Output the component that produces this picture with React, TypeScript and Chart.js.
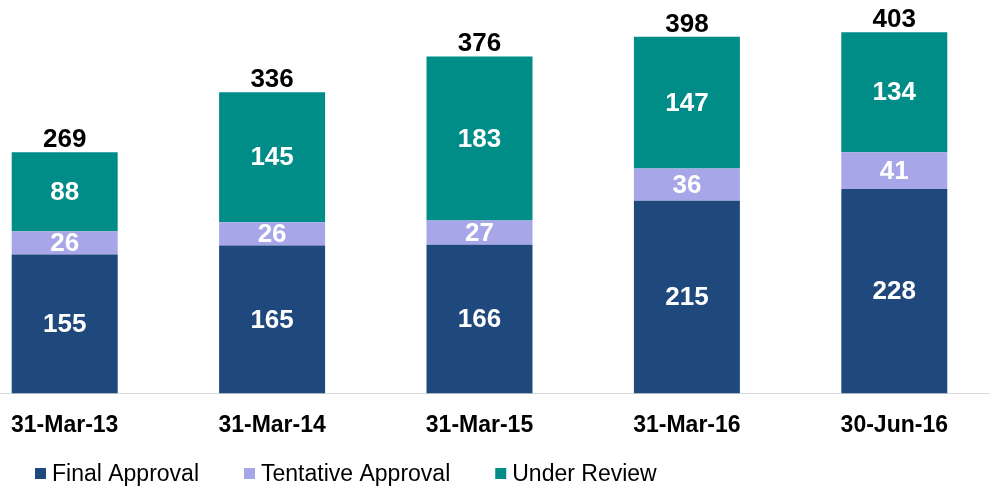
import React, { useEffect, useRef } from "react";
import { Chart, registerables } from "chart.js";

Chart.register(...registerables);

const categories = ["31-Mar-13", "31-Mar-14", "31-Mar-15", "31-Mar-16", "30-Jun-16"];
const finalApproval = [155, 165, 166, 215, 228];
const tentativeApproval = [26, 26, 27, 36, 41];
const underReview = [88, 145, 183, 147, 134];
const totals = [269, 336, 376, 398, 403];

const seriesNames = ["Final Approval", "Tentative Approval", "Under Review"];
const seriesColors = ["#1F497D", "#A6A6E8", "#008C87"];

const FONT = '"Liberation Sans", Arial, Helvetica, sans-serif';

const labelPlugin = {
  id: "segmentLabels",
  afterDatasetsDraw(chart: any) {
    const ctx = chart.ctx;
    ctx.save();
    ctx.font = `bold 26px ${FONT}`;
    ctx.textAlign = "center";
    chart.data.datasets.forEach((ds: any, di: number) => {
      const meta = chart.getDatasetMeta(di);
      meta.data.forEach((bar: any, i: number) => {
        const v = ds.data[i];
        ctx.fillStyle = "#FFFFFF";
        ctx.textBaseline = "middle";
        ctx.fillText(String(v), bar.x, (bar.y + bar.base) / 2 + 1);
      });
    });
    const last = chart.getDatasetMeta(chart.data.datasets.length - 1);
    last.data.forEach((bar: any, i: number) => {
      ctx.fillStyle = "#000000";
      ctx.textBaseline = "alphabetic";
      ctx.fillText(String(totals[i]), bar.x, bar.y - 5);
    });
    ctx.restore();
  },
};

const legendPlugin = {
  id: "customLegend",
  afterDraw(chart: any) {
    const ctx = chart.ctx;
    ctx.save();
    ctx.font = `23px ${FONT}`;
    ctx.textBaseline = "middle";
    ctx.textAlign = "left";
    let x = 74;
    const boxTop = 468;
    chart.data.datasets.forEach((ds: any) => {
      ctx.fillStyle = ds.backgroundColor;
      ctx.fillRect(x, boxTop, 11, 11);
      ctx.fillStyle = "#000000";
      const tx = x + 17;
      ctx.fillText(ds.label, tx, 475);
      x = tx + ctx.measureText(ds.label).width + 45;
    });
    ctx.restore();
  },
};

export default function App() {
  const ref = useRef<HTMLCanvasElement | null>(null);

  useEffect(() => {
    if (!ref.current) return;
    const chart = new Chart(ref.current, {
      type: "bar",
      data: {
        labels: categories,
        datasets: [
          { label: seriesNames[0], data: finalApproval, backgroundColor: seriesColors[0] },
          { label: seriesNames[1], data: tentativeApproval, backgroundColor: seriesColors[1] },
          { label: seriesNames[2], data: underReview, backgroundColor: seriesColors[2] },
        ],
      },
      options: {
        animation: false,
        responsive: false,
        devicePixelRatio: 1,
        layout: { padding: { top: 17, bottom: 32, left: 0, right: 0 } },
        datasets: {
          bar: { barPercentage: 0.511, categoryPercentage: 1, borderWidth: 0 },
        },
        scales: {
          x: {
            stacked: true,
            grid: { display: false, drawTicks: false },
            border: { display: true, color: "#D9D9D9", width: 1 },
            ticks: {
              color: "#000000",
              padding: 18,
              font: { family: FONT, size: 23, weight: "bold" },
            },
          },
          y: {
            stacked: true,
            display: false,
            min: 0,
            max: 420,
          },
        },
        plugins: {
          legend: { display: false },
          tooltip: { enabled: false },
        },
      } as any,
      plugins: [labelPlugin, legendPlugin],
    });
    return () => chart.destroy();
  }, []);

  return (
    <div
      style={{
        position: "fixed",
        left: 0,
        top: 0,
        width: 990,
        height: 489,
        overflow: "hidden",
        background: "#FFFFFF",
      }}
    >
      <canvas
        ref={ref}
        width={1037}
        height={489}
        style={{ position: "absolute", left: -39, top: 0, width: 1037, height: 489 }}
      />
    </div>
  );
}
